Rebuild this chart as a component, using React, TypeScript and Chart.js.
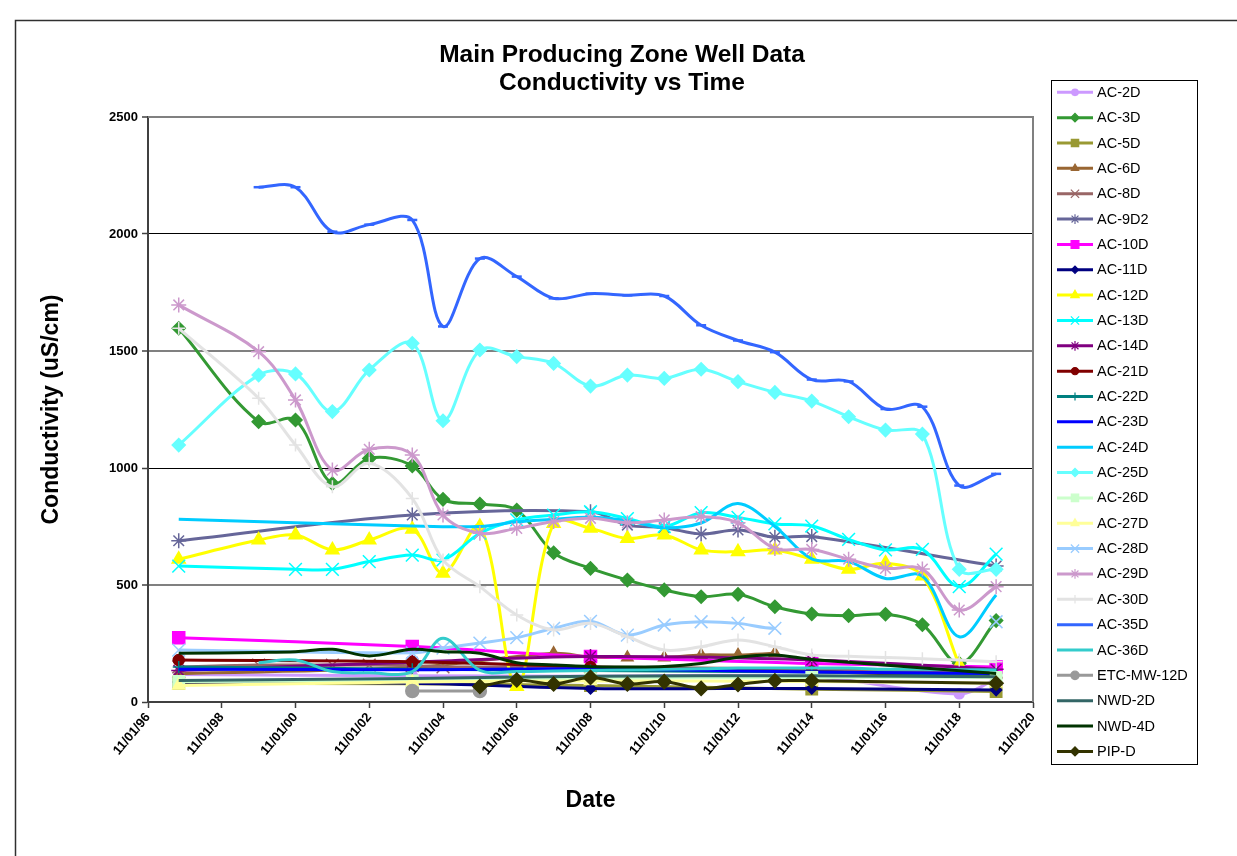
import React, { useEffect, useRef } from "react";
import { Chart, registerables } from "chart.js";
import { drawPoint } from "chart.js/helpers";

Chart.register(...registerables);

// ---------------- DATA ----------------
const TITLE_LINES = ["Main Producing Zone Well Data", "Conductivity vs Time"];
const X_TITLE = "Date";
const Y_TITLE = "Conductivity (uS/cm)";

// sampling dates (YYYY-MM)
const DATES = [
  "1997-09", "1999-11", "2000-11", "2001-11", "2002-11", "2004-01", "2004-11", "2005-11",
  "2006-11", "2007-11", "2008-11", "2009-11", "2010-11", "2011-11", "2012-11", "2013-11",
  "2014-11", "2015-11", "2016-11", "2017-11", "2018-11", "2019-11",
];

const X_TICK_YEARS = [1996, 1998, 2000, 2002, 2004, 2006, 2008, 2010, 2012, 2014, 2016, 2018, 2020];
const Y_TICKS = [0, 500, 1000, 1500, 2000, 2500];

const _ = null;
const AC_2D = [118, _, _, _, _, 112, _, _, _, _, 110, _, _, _, _, _, 108, _, _, _, 35, 98];
const AC_3D = [1597, 1198, 1205, 934, 1041, 1009, 866, 846, 820, 638, 571, 521, 479, 450, 460, 407, 376, 369, 375, 330, 165, 348];
const AC_5D = [80, _, _, _, _, 78, _, _, _, _, 70, _, _, _, _, _, 55, _, _, _, _, 45];
const AC_6D = [122, _, _, _, _, 148, _, _, _, 208, 192, 190, 190, 201, 201, 208, _, _, _, _, _, _];
const AC_8D = [150, 158, _, 158, 158, 155, 150, _, _, _, 150, _, _, _, _, _, 140, _, _, _, _, 128];
const AC_9D2 = [689, _, _, _, _, 799, _, _, _, _, 813, 756, 745, 718, 735, 704, 707, _, _, _, _, 581];
const AC_10D = [275, _, _, _, _, 237, _, _, _, _, 194, _, _, _, _, _, 165, _, _, _, _, 150];
const AC_11D = [85, _, _, _, _, 80, _, _, _, _, 58, _, _, _, _, _, 58, _, _, _, _, 51];
const AC_12D = [610, 692, 714, 650, 692, 738, 550, 750, 66, 763, 742, 699, 714, 650, 642, 650, 610, 567, 593, 538, 158, _];
const AC_13D = [581, _, 567, 567, 600, 628, 607, 721, 778, 799, 813, 784, 750, 809, 789, 761, 752, 695, 650, 652, 493, 632];
const AC_14D = [135, _, _, _, _, 170, _, _, _, _, 194, _, _, _, _, _, 180, _, _, _, _, 140];
const AC_21D = [179, _, _, _, _, 172, _, _, _, _, 150, _, _, _, _, _, 130, _, _, _, _, 105];
const AC_22D = [150, _, _, _, _, 140, _, _, _, _, 135, _, _, _, _, _, 128, _, _, _, _, 118];
const AC_23D = [140, _, _, _, _, 138, _, _, _, _, 142, _, _, _, _, _, 128, _, _, _, _, 122];
const AC_24D = [781, _, _, _, _, 752, _, 750, 770, 781, 789, 775, 745, 765, 848, 750, 612, 600, 528, 538, 279, 457];
const AC_25D = [1098, 1397, 1402, 1241, 1419, 1533, 1202, 1504, 1476, 1447, 1350, 1397, 1383, 1422, 1369, 1323, 1286, 1219, 1162, 1145, 567, 567];
const AC_26D = [88, _, _, _, _, 90, _, _, _, _, 100, _, _, _, _, _, 105, _, _, _, _, 105];
const AC_27D = [70, _, _, _, _, 85, _, _, _, _, 90, _, _, _, _, _, 88, _, _, _, _, 80];
const AC_28D = [222, _, _, _, _, 210, 230, 252, 275, 315, 345, 286, 329, 343, 336, 315, _, _, _, _, _, 343];
const AC_29D = [1697, 1497, 1291, 991, 1080, 1056, 799, 721, 742, 771, 785, 766, 778, 792, 766, 656, 652, 610, 571, 568, 393, 493];
const AC_30D = [1597, 1298, 1098, 920, 1020, 870, 607, 493, 372, 308, 336, 279, 222, 236, 265, 236, 201, 195, 190, 185, 179, 172];
const AC_35D = [_, 2200, 2200, 2010, 2040, 2060, 1605, 1895, 1818, 1725, 1745, 1738, 1735, 1610, 1545, 1495, 1378, 1370, 1252, 1262, 925, 975];
const AC_36D = [_, 168, 179, 130, 125, 130, 272, 135, 130, 132, 135, 138, 140, 142, 145, 145, 145, 145, 140, 140, 138, 137];
const ETC_MW_12D = [_, _, _, _, _, 47, _, 47, _, _, _, _, _, _, _, _, _, _, _, _, _, _];
const NWD_2D = [92, _, _, _, _, 100, _, _, _, _, 110, _, _, _, _, _, 112, _, _, _, _, 108];
const NWD_4D = [208, 212, 215, 225, 197, 225, 215, 208, 168, 158, 151, 150, 152, 165, 191, 201, 182, _, _, _, _, 122];
const PIP_D = [_, _, _, _, _, _, _, 66, 94, 77, 105, 77, 87, 58, 75, 91, 91, _, _, _, _, 80];

const SERIES: { name: string; values: (number | null)[] }[] = [
  { name: "AC-2D", values: AC_2D },
  { name: "AC-3D", values: AC_3D },
  { name: "AC-5D", values: AC_5D },
  { name: "AC-6D", values: AC_6D },
  { name: "AC-8D", values: AC_8D },
  { name: "AC-9D2", values: AC_9D2 },
  { name: "AC-10D", values: AC_10D },
  { name: "AC-11D", values: AC_11D },
  { name: "AC-12D", values: AC_12D },
  { name: "AC-13D", values: AC_13D },
  { name: "AC-14D", values: AC_14D },
  { name: "AC-21D", values: AC_21D },
  { name: "AC-22D", values: AC_22D },
  { name: "AC-23D", values: AC_23D },
  { name: "AC-24D", values: AC_24D },
  { name: "AC-25D", values: AC_25D },
  { name: "AC-26D", values: AC_26D },
  { name: "AC-27D", values: AC_27D },
  { name: "AC-28D", values: AC_28D },
  { name: "AC-29D", values: AC_29D },
  { name: "AC-30D", values: AC_30D },
  { name: "AC-35D", values: AC_35D },
  { name: "AC-36D", values: AC_36D },
  { name: "ETC-MW-12D", values: ETC_MW_12D },
  { name: "NWD-2D", values: NWD_2D },
  { name: "NWD-4D", values: NWD_4D },
  { name: "PIP-D", values: PIP_D },
];

// a series whose line is not drawn across a data gap after this date
const BREAK_AFTER: Record<string, string> = { "AC-28D": "2013-11" };

// ---------------- STYLES ----------------
type Sty = { color: string; marker: string | false; r: number };
const STYLES: Record<string, Sty> = {
  "AC-2D": { color: "#CC99FF", marker: "circle", r: 5 },
  "AC-3D": { color: "#339933", marker: "rectRot", r: 6.5 },
  "AC-5D": { color: "#999933", marker: "rect", r: 8 },
  "AC-6D": { color: "#996633", marker: "triangle", r: 6.5 },
  "AC-8D": { color: "#996666", marker: "crossRot", r: 9 },
  "AC-9D2": { color: "#666699", marker: "star", r: 7.5 },
  "AC-10D": { color: "#FF00FF", marker: "rect", r: 8.5 },
  "AC-11D": { color: "#000080", marker: "rectRot", r: 5.5 },
  "AC-12D": { color: "#FFFF00", marker: "triangle", r: 7.5 },
  "AC-13D": { color: "#00FFFF", marker: "crossRot", r: 9 },
  "AC-14D": { color: "#800080", marker: "star", r: 7.5 },
  "AC-21D": { color: "#800000", marker: "circle", r: 5.5 },
  "AC-22D": { color: "#008080", marker: "cross", r: 6 },
  "AC-23D": { color: "#0000FF", marker: false, r: 0 },
  "AC-24D": { color: "#00CCFF", marker: false, r: 0 },
  "AC-25D": { color: "#66FFFF", marker: "rectRot", r: 6.5 },
  "AC-26D": { color: "#CCFFCC", marker: "rect", r: 8 },
  "AC-27D": { color: "#FFFF99", marker: "triangle", r: 7 },
  "AC-28D": { color: "#99CCFF", marker: "crossRot", r: 9 },
  "AC-29D": { color: "#CC99CC", marker: "star", r: 7.5 },
  "AC-30D": { color: "#E3E3E3", marker: "cross", r: 6.5 },
  "AC-35D": { color: "#3366FF", marker: "line", r: 5 },
  "AC-36D": { color: "#33CCCC", marker: false, r: 0 },
  "ETC-MW-12D": { color: "#999999", marker: "circle", r: 6.5 },
  "NWD-2D": { color: "#336666", marker: false, r: 0 },
  "NWD-4D": { color: "#003300", marker: false, r: 0 },
  "PIP-D": { color: "#333300", marker: "rectRot", r: 7 },
};

const FONT = "'Liberation Sans', Arial, Helvetica, sans-serif";

const toX = (d: string) => {
  const [y, m] = d.split("-").map(Number);
  return y - 1996 + (m - 11) / 12;
};

const decorPlugin = {
  id: "decor",
  beforeDraw(chart: any) {
    const { ctx, width, height } = chart;
    ctx.save();
    ctx.fillStyle = "#ffffff";
    ctx.fillRect(0, 0, width, height);
    ctx.restore();
  },
  beforeDatasetsDraw(chart: any) {
    const { ctx, chartArea: a } = chart;
    ctx.save();
    ctx.strokeStyle = "#808080";
    ctx.lineWidth = 2;
    ctx.beginPath();
    ctx.moveTo(a.left, a.top);
    ctx.lineTo(a.right, a.top);
    ctx.lineTo(a.right, a.bottom);
    ctx.stroke();
    ctx.restore();
  },
  afterDraw(chart: any) {
    const { ctx } = chart;
    ctx.save();
    // outer chart border
    ctx.strokeStyle = "#303030";
    ctx.lineWidth = 1.5;
    ctx.strokeRect(15.5, 20.5, 1400, 1000);

    // title
    ctx.fillStyle = "#000";
    ctx.font = `bold 24.5px ${FONT}`;
    ctx.textAlign = "center";
    ctx.textBaseline = "middle";
    TITLE_LINES.forEach((t, i) => ctx.fillText(t, 622, 55 + i * 28.5));

    // legend
    const lx = 1051.5, ly = 80.5, lw = 146, lh = 684;
    ctx.fillStyle = "#fff";
    ctx.fillRect(lx, ly, lw, lh);
    ctx.strokeStyle = "#000";
    ctx.lineWidth = 1;
    ctx.strokeRect(lx, ly, lw, lh);
    ctx.font = `14.5px ${FONT}`;
    ctx.textAlign = "left";
    ctx.textBaseline = "middle";
    SERIES.forEach((s, i) => {
      const st = STYLES[s.name];
      const y = 92.3 + i * 25.35;
      ctx.strokeStyle = st.color;
      ctx.lineWidth = 3;
      ctx.beginPath();
      ctx.moveTo(1057, y);
      ctx.lineTo(1093, y);
      ctx.stroke();
      if (st.marker && st.marker !== "line") {
        ctx.fillStyle = st.color;
        ctx.strokeStyle = st.color;
        ctx.lineWidth = 1.2;
        drawPoint(ctx, { pointStyle: st.marker as any, radius: st.r * 0.65, rotation: 0, borderWidth: 1.2 }, 1075, y);
      }
      ctx.fillStyle = "#000";
      ctx.fillText(s.name, 1097, y + 0.5);
    });
    ctx.restore();
  },
};

export default function App() {
  const ref = useRef<HTMLCanvasElement | null>(null);

  useEffect(() => {
    if (!ref.current) return;
    const n = SERIES.length;
    const datasets = SERIES.map((s, i) => {
      const st = STYLES[s.name];
      const brk = BREAK_AFTER[s.name];
      let gapFrom = NaN;
      let gapTo = NaN;
      if (brk) {
        const bi = DATES.indexOf(brk);
        gapFrom = toX(brk);
        for (let k = bi + 1; k < DATES.length; k++) {
          if (s.values[k] !== null) { gapTo = toX(DATES[k]); break; }
        }
      }
      return {
        label: s.name,
        data: DATES.map((d, k) => ({ x: toX(d), y: s.values[k] })),
        borderColor: st.color,
        backgroundColor: st.color,
        borderWidth: 3,
        pointStyle: st.marker || "circle",
        pointRadius: st.marker ? st.r : 0,
        pointHoverRadius: st.marker ? st.r : 0,
        pointBorderWidth: st.marker === "line" ? 2.5 : 1.5,
        pointBackgroundColor: st.color,
        pointBorderColor: st.color,
        tension: 0.35,
        spanGaps: true,
        order: n - i,
        segment: brk
          ? {
              borderColor: (c: any) => {
                const x0 = c.p0 && c.p0.parsed ? c.p0.parsed.x : NaN;
                return x0 >= gapFrom - 0.01 && x0 < gapTo - 0.01 ? "rgba(0,0,0,0)" : undefined;
              },
            }
          : undefined,
      };
    });

    const chart = new Chart(ref.current, {
      type: "line",
      data: { datasets } as any,
      options: {
        responsive: false,
        animation: false,
        devicePixelRatio: 1,
        layout: { padding: { left: 20, top: 117, right: 204, bottom: 42 } },
        plugins: { legend: { display: false }, title: { display: false }, tooltip: { enabled: false } },
        font: { family: FONT },
        scales: {
          x: {
            type: "linear",
            min: 0,
            max: 24,
            afterFit: (sc: any) => { sc.height = 112; },
            afterBuildTicks: (sc: any) => { sc.ticks = X_TICK_YEARS.map((y) => ({ value: y - 1996 })); },
            ticks: {
              autoSkip: false,
              maxRotation: 50,
              minRotation: 50,
              padding: 2,
              color: "#000",
              font: { family: FONT, size: 13, weight: "bold" },
              callback: (v: any) => `11/01/${String((1996 + Number(v)) % 100).padStart(2, "0")}`,
            },
            grid: { drawOnChartArea: false, drawTicks: true, tickLength: 6, tickColor: "#404040", tickWidth: 1.5 },
            border: { display: true, color: "#404040", width: 2 },
            title: {
              display: true,
              text: X_TITLE,
              color: "#000",
              font: { family: FONT, size: 23, weight: "bold" },
              padding: { top: 0, bottom: 0 },
            },
          },
          y: {
            type: "linear",
            min: 0,
            max: 2500,
            afterFit: (sc: any) => { sc.width = 128; },
            afterBuildTicks: (sc: any) => { sc.ticks = Y_TICKS.map((v) => ({ value: v })); },
            ticks: {
              padding: 4,
              color: "#000",
              font: { family: FONT, size: 13, weight: "bold" },
              callback: (v: any) => String(v),
            },
            grid: {
              drawOnChartArea: true,
              drawTicks: true,
              tickLength: 6,
              tickColor: "#404040",
              tickWidth: 1.5,
              color: (c: any) => (c.tick && c.tick.value % 1000 === 0 ? "#000000" : "#808080"),
              lineWidth: (c: any) => (c.tick && c.tick.value % 1000 === 0 ? 1 : 2),
            },
            border: { display: true, color: "#404040", width: 2 },
            title: {
              display: true,
              text: Y_TITLE,
              color: "#000",
              font: { family: FONT, size: 23, weight: "bold" },
              padding: { top: 18, bottom: 0 },
            },
          },
        },
      } as any,
      plugins: [decorPlugin],
    });
    return () => chart.destroy();
  }, []);

  return (
    <div style={{ position: "fixed", left: 0, top: 0, width: 1237, height: 856, background: "#fff" }}>
      <canvas ref={ref} width={1237} height={856} style={{ display: "block", width: 1237, height: 856 }} />
    </div>
  );
}
